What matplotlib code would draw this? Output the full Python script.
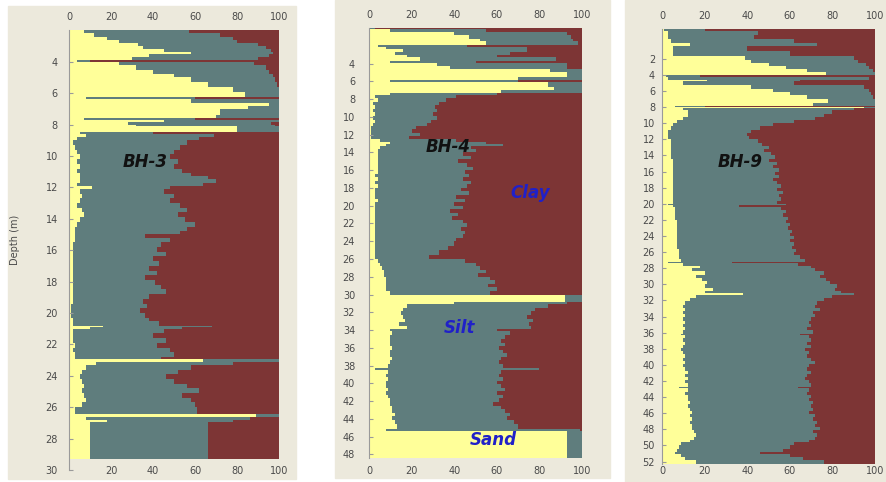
import numpy as np
import matplotlib
matplotlib.use("Agg")
import matplotlib.pyplot as plt
from matplotlib.patches import Rectangle

# Grain size profiles: depth of each layer top (m), sand %, sand + silt % (cumulative)
bh3_depth = [2.0, 2.2, 2.4, 2.6, 2.8, 3.0, 3.2, 3.4, 3.5, 3.7,
             3.9, 4.0, 4.2, 4.5, 4.8, 5.0, 5.3, 5.6, 5.9, 6.25,
             6.35, 6.6, 6.85, 7.0, 7.4, 7.6, 7.7, 7.85, 8.0, 8.1,
             8.5, 8.6, 8.8, 9.0, 9.3, 9.6, 9.9, 10.2, 10.5, 10.8,
             11.1, 11.3, 11.5, 11.7, 11.9, 12.1, 12.4, 12.7, 13.0, 13.3,
             13.6, 13.9, 14.2, 14.5, 14.8, 15.0, 15.2, 15.5, 15.8, 16.1,
             16.4, 16.7, 17.0, 17.3, 17.6, 17.9, 18.2, 18.5, 18.8, 19.1,
             19.4, 19.7, 20.0, 20.3, 20.5, 20.8, 20.9, 21.0, 21.3, 21.6,
             21.9, 22.2, 22.5, 22.8, 22.95, 23.1, 23.3, 23.6, 23.9, 24.2,
             24.5, 24.8, 25.1, 25.4, 25.7, 26.0, 26.45, 26.65, 26.8, 26.95]
bh3_sand = [7, 12, 18, 24, 33, 35, 45, 58, 38, 30,
            4, 24, 32, 40, 50, 58, 66, 78, 84, 8,
            58, 95, 85, 72, 70, 7, 45, 28, 32, 80,
            5, 8, 4, 2, 3, 4, 5, 4, 5, 4,
            5, 5, 5, 4, 11, 5, 6, 5, 4, 6,
            7, 5, 4, 3, 3, 3, 3, 2, 2, 2,
            2, 2, 2, 2, 2, 2, 2, 2, 2, 2,
            1, 1, 1, 2, 2, 16, 10, 2, 2, 2,
            3, 2, 3, 3, 64, 13, 8, 6, 5, 6,
            7, 6, 7, 8, 6, 3, 89, 8, 18, 10]
bh3_sand_silt = [57, 72, 78, 80, 90, 94, 96, 97, 95, 90,
                 10, 88, 94, 95, 97, 98, 99, 100, 100, 60,
                 100, 100, 100, 100, 100, 60, 100, 96, 98, 100,
                 40, 69, 62, 56, 53, 50, 48, 52, 50, 54,
                 58, 66, 70, 64, 48, 45, 50, 48, 53, 56,
                 52, 55, 60, 56, 53, 36, 48, 44, 42, 46,
                 40, 43, 38, 42, 36, 41, 44, 46, 38, 35,
                 37, 34, 36, 38, 43, 68, 54, 45, 40, 46,
                 42, 48, 50, 44, 100, 78, 58, 52, 46, 50,
                 56, 62, 54, 58, 60, 61, 100, 86, 78, 66]
bh3_bottom = 29.33

bh4_depth = [0.0, 0.15, 0.4, 0.8, 1.2, 1.5, 1.9, 2.1, 2.4, 2.7,
             3.0, 3.3, 3.7, 3.9, 4.3, 4.6, 5.0, 5.5, 5.9, 6.1,
             6.6, 7.0, 7.3, 7.5, 7.9, 8.3, 8.7, 9.1, 9.5, 9.9,
             10.3, 10.7, 11.0, 11.4, 11.8, 12.2, 12.5, 12.8, 13.1, 13.3,
             13.6, 14.0, 14.4, 14.8, 15.2, 15.6, 16.0, 16.4, 16.8, 17.2,
             17.6, 18.0, 18.4, 18.8, 19.2, 19.6, 20.0, 20.4, 20.8, 21.2,
             21.6, 22.0, 22.4, 22.8, 23.2, 23.6, 24.0, 24.5, 25.0, 25.5,
             26.0, 26.4, 26.8, 27.2, 27.6, 28.0, 28.4, 28.8, 29.2, 29.6,
             30.0, 30.8, 31.1, 31.5, 31.9, 32.3, 32.7, 33.1, 33.5, 33.9,
             34.1, 34.5, 35.0, 35.4, 35.8, 36.2, 36.6, 37.0, 37.4, 37.8,
             38.3, 38.45, 38.9, 39.3, 39.7, 40.1, 40.5, 40.9, 41.3, 41.7,
             42.1, 42.5, 42.9, 43.3, 43.7, 44.1, 44.6, 45.1, 45.35]
bh4_sand = [0, 10, 40, 47, 52, 55, 4, 8, 16, 12,
            18, 24, 10, 32, 38, 85, 93, 70, 10, 84,
            87, 62, 10, 3, 4, 2, 3, 2, 3, 2,
            3, 2, 1, 1, 1, 1, 5, 10, 8, 5,
            4, 4, 4, 4, 4, 4, 4, 3, 4, 3,
            4, 3, 3, 3, 4, 3, 3, 3, 3, 3,
            3, 3, 3, 3, 3, 3, 3, 3, 3, 3,
            4, 5, 6, 7, 7, 8, 8, 8, 8, 10,
            92, 40, 18, 16, 15, 16, 17, 14, 18, 10,
            11, 10, 10, 10, 11, 10, 10, 11, 10, 9,
            3, 9, 8, 9, 8, 8, 9, 8, 9, 10,
            10, 11, 11, 12, 11, 12, 13, 8, 93]
bh4_sand_silt = [3, 55, 93, 95, 96, 98, 46, 74, 74, 66,
                 60, 88, 50, 93, 93, 100, 100, 100, 70, 100,
                 100, 100, 60, 41, 36, 33, 31, 32, 30, 32,
                 29, 27, 22, 20, 24, 19, 41, 55, 63, 48,
                 50, 44, 48, 42, 46, 49, 45, 47, 44, 48,
                 46, 43, 47, 41, 45, 40, 44, 38, 42, 39,
                 44, 46, 43, 45, 44, 41, 40, 37, 33, 28,
                 45, 50, 52, 55, 51, 57, 59, 56, 60, 57,
                 100, 93, 84, 78, 76, 74, 77, 75, 76, 60,
                 66, 64, 62, 64, 61, 63, 65, 62, 61, 63,
                 80, 62, 61, 63, 60, 62, 64, 60, 63, 61,
                 58, 62, 64, 66, 65, 68, 70, 99, 100]
bh4_bottom = 48.4

bh9_depth = [-1.7, -1.4, -0.9, -0.5, 0.0, 0.4, 1.0, 1.6, 2.1, 2.5,
             2.9, 3.3, 3.6, 4.0, 4.2, 4.6, 4.8, 5.3, 5.7, 6.1,
             6.5, 7.0, 7.5, 7.8, 8.0, 8.15, 8.4, 8.8, 9.2, 9.6,
             10.0, 10.4, 10.8, 11.2, 11.6, 12.0, 12.4, 12.8, 13.2, 13.6,
             14.0, 14.4, 14.8, 15.2, 15.6, 16.0, 16.4, 16.8, 17.2, 17.6,
             18.0, 18.4, 18.8, 19.2, 19.6, 20.0, 20.2, 20.35, 20.8, 21.2,
             21.6, 22.0, 22.4, 22.8, 23.2, 23.6, 24.0, 24.4, 24.8, 25.2,
             25.6, 26.0, 26.4, 26.8, 27.2, 27.4, 27.7, 28.0, 28.4, 28.8,
             29.2, 29.6, 30.0, 30.4, 30.8, 31.1, 31.3, 31.7, 32.1, 32.5,
             32.9, 33.3, 33.7, 34.1, 34.5, 34.9, 35.3, 35.7, 36.1, 36.3,
             36.7, 37.1, 37.5, 37.9, 38.3, 38.7, 39.1, 39.5, 39.9, 40.3,
             40.7, 41.1, 41.5, 41.9, 42.3, 42.7, 42.9, 43.3, 43.7, 44.1,
             44.5, 44.9, 45.3, 45.7, 46.1, 46.5, 46.9, 47.3, 47.7, 48.1,
             48.5, 48.9, 49.3, 49.6, 50.0, 50.4, 50.8, 51.0, 51.4, 51.8]
bh9_sand = [1, 3, 3, 4, 13, 5, 5, 39, 42, 50,
            58, 68, 77, 2, 3, 21, 10, 42, 52, 60,
            68, 78, 71, 6, 95, 10, 12, 12, 10, 7,
            5, 4, 3, 3, 3, 4, 4, 4, 4, 4,
            4, 5, 5, 5, 5, 5, 5, 5, 5, 5,
            5, 5, 5, 5, 5, 3, 5, 6, 6, 6,
            6, 7, 7, 7, 7, 7, 7, 7, 7, 7,
            8, 8, 8, 9, 3, 10, 18, 14, 20, 16,
            19, 21, 20, 24, 20, 38, 16, 13, 11, 10,
            11, 10, 11, 10, 11, 10, 11, 10, 9, 11,
            10, 11, 10, 9, 10, 11, 10, 11, 10, 11,
            12, 11, 12, 11, 12, 8, 12, 11, 12, 12,
            13, 12, 13, 14, 13, 14, 13, 14, 14, 15,
            16, 15, 13, 9, 8, 7, 6, 9, 11, 16]
bh9_sand_silt = [20, 45, 43, 62, 73, 40, 60, 90, 92, 96,
                 97, 99, 100, 18, 97, 65, 62, 95, 97, 98,
                 99, 100, 100, 20, 100, 90, 80, 76, 72, 62,
                 52, 46, 42, 40, 41, 45, 47, 50, 48, 51,
                 53, 50, 54, 52, 55, 53, 55, 52, 54, 56,
                 54, 57, 55, 56, 54, 58, 36, 56, 58, 57,
                 59, 58, 60, 59, 61, 60, 62, 60, 62, 61,
                 63, 62, 65, 67, 33, 64, 70, 72, 76, 74,
                 77, 79, 82, 81, 84, 90, 80, 76, 73, 72,
                 74, 71, 72, 70, 69, 70, 68, 71, 65, 69,
                 70, 68, 70, 67, 69, 68, 70, 72, 69, 68,
                 70, 68, 67, 69, 70, 64, 69, 68, 70, 69,
                 71, 70, 71, 69, 72, 71, 73, 72, 74, 71,
                 73, 72, 69, 62, 60, 57, 46, 60, 66, 76]
bh9_bottom = 52.3

SAND = "#FFFF99"
SILT = "#5F7D7D"
CLAY = "#7D3535"
BEIGE = "#ECE9DC"
TICK = "#4a4a4a"

W, H = 886, 482
fig = plt.figure(figsize=(W / 100, H / 100), dpi=100, facecolor="white")


def px_box(left, top, right, bottom):
    return [left / W, 1 - bottom / H, (right - left) / W, (bottom - top) / H]


# window-style backgrounds behind each log
for l, t, r, b in [(8, 6, 296, 479), (335, 0, 610, 478), (625, 0, 886, 482)]:
    fig.add_artist(Rectangle((l / W, 1 - b / H), (r - l) / W, (b - t) / H,
                             transform=fig.transFigure, color=BEIGE, zorder=-1))


def draw_log(box, depth, sand, sand_silt, bottom, ylim, yticks, bottom_xticks,
             ypad, bpad, tpad):
    ax = fig.add_axes(px_box(*box))
    d = np.append(depth, bottom)
    s = np.append(sand, sand[-1])
    c = np.append(sand_silt, sand_silt[-1])
    ax.fill_betweenx(d, 0, s, step="post", color=SAND, lw=0)
    ax.fill_betweenx(d, s, c, step="post", color=SILT, lw=0)
    ax.fill_betweenx(d, c, 100, step="post", color=CLAY, lw=0)

    ax.set_xlim(0, 100)
    ax.set_ylim(*ylim)
    ax.patch.set_visible(False)
    for side in ["top", "right", "bottom"]:
        ax.spines[side].set_visible(False)
    ax.spines["left"].set_color("#9a9a9a")
    ax.spines["left"].set_linewidth(0.8)

    ax.set_yticks(yticks)
    ax.tick_params(axis="y", length=3, direction="in", color="#9a9a9a",
                   pad=ypad, labelsize=7, labelcolor=TICK)
    ax.set_xticks(bottom_xticks)
    ax.tick_params(axis="x", length=0, pad=bpad, labelsize=7, labelcolor=TICK)

    top = ax.secondary_xaxis("top")
    top.set_xticks(range(0, 101, 20))
    top.tick_params(length=0, pad=tpad, labelsize=7, labelcolor=TICK)
    for sp in top.spines.values():
        sp.set_visible(False)
    return ax


ax3 = draw_log((69, 30, 279, 470), bh3_depth, bh3_sand, bh3_sand_silt, bh3_bottom,
               (30, 1.98), range(4, 31, 2), [20, 40, 60, 80, 100], 8, -3.2, 6.1)
ax4 = draw_log((369, 28, 582, 458), bh4_depth, bh4_sand, bh4_sand_silt, bh4_bottom,
               (48.4, 0), range(4, 49, 2), range(0, 101, 20), 10, 5.4, 5.4)
ax9 = draw_log((662, 29, 875, 464), bh9_depth, bh9_sand, bh9_sand_silt, bh9_bottom,
               (52.3, -1.7), range(2, 53, 2), range(0, 101, 20), 5, 1.1, 5.4)

label_kw = dict(fontsize=12, fontweight="bold", fontstyle="italic",
                ha="center", va="center")
ax3.text(36.2, 10.4, "BH-3", color="#111111", **label_kw)
ax4.text(37.1, 13.4, "BH-4", color="#111111", **label_kw)
ax9.text(36.6, 14.8, "BH-9", color="#111111", **label_kw)
ax4.text(75.6, 18.6, "Clay", color="#2020C8", **label_kw)
ax4.text(42.7, 33.8, "Silt", color="#2020C8", **label_kw)
ax4.text(58.2, 46.4, "Sand", color="#2020C8", **label_kw)

fig.text(15 / W, 1 - 240 / H, "Depth (m)", rotation=90, fontsize=7,
         color=TICK, ha="center", va="center")

fig.savefig("out.png", dpi=100, facecolor="white")
